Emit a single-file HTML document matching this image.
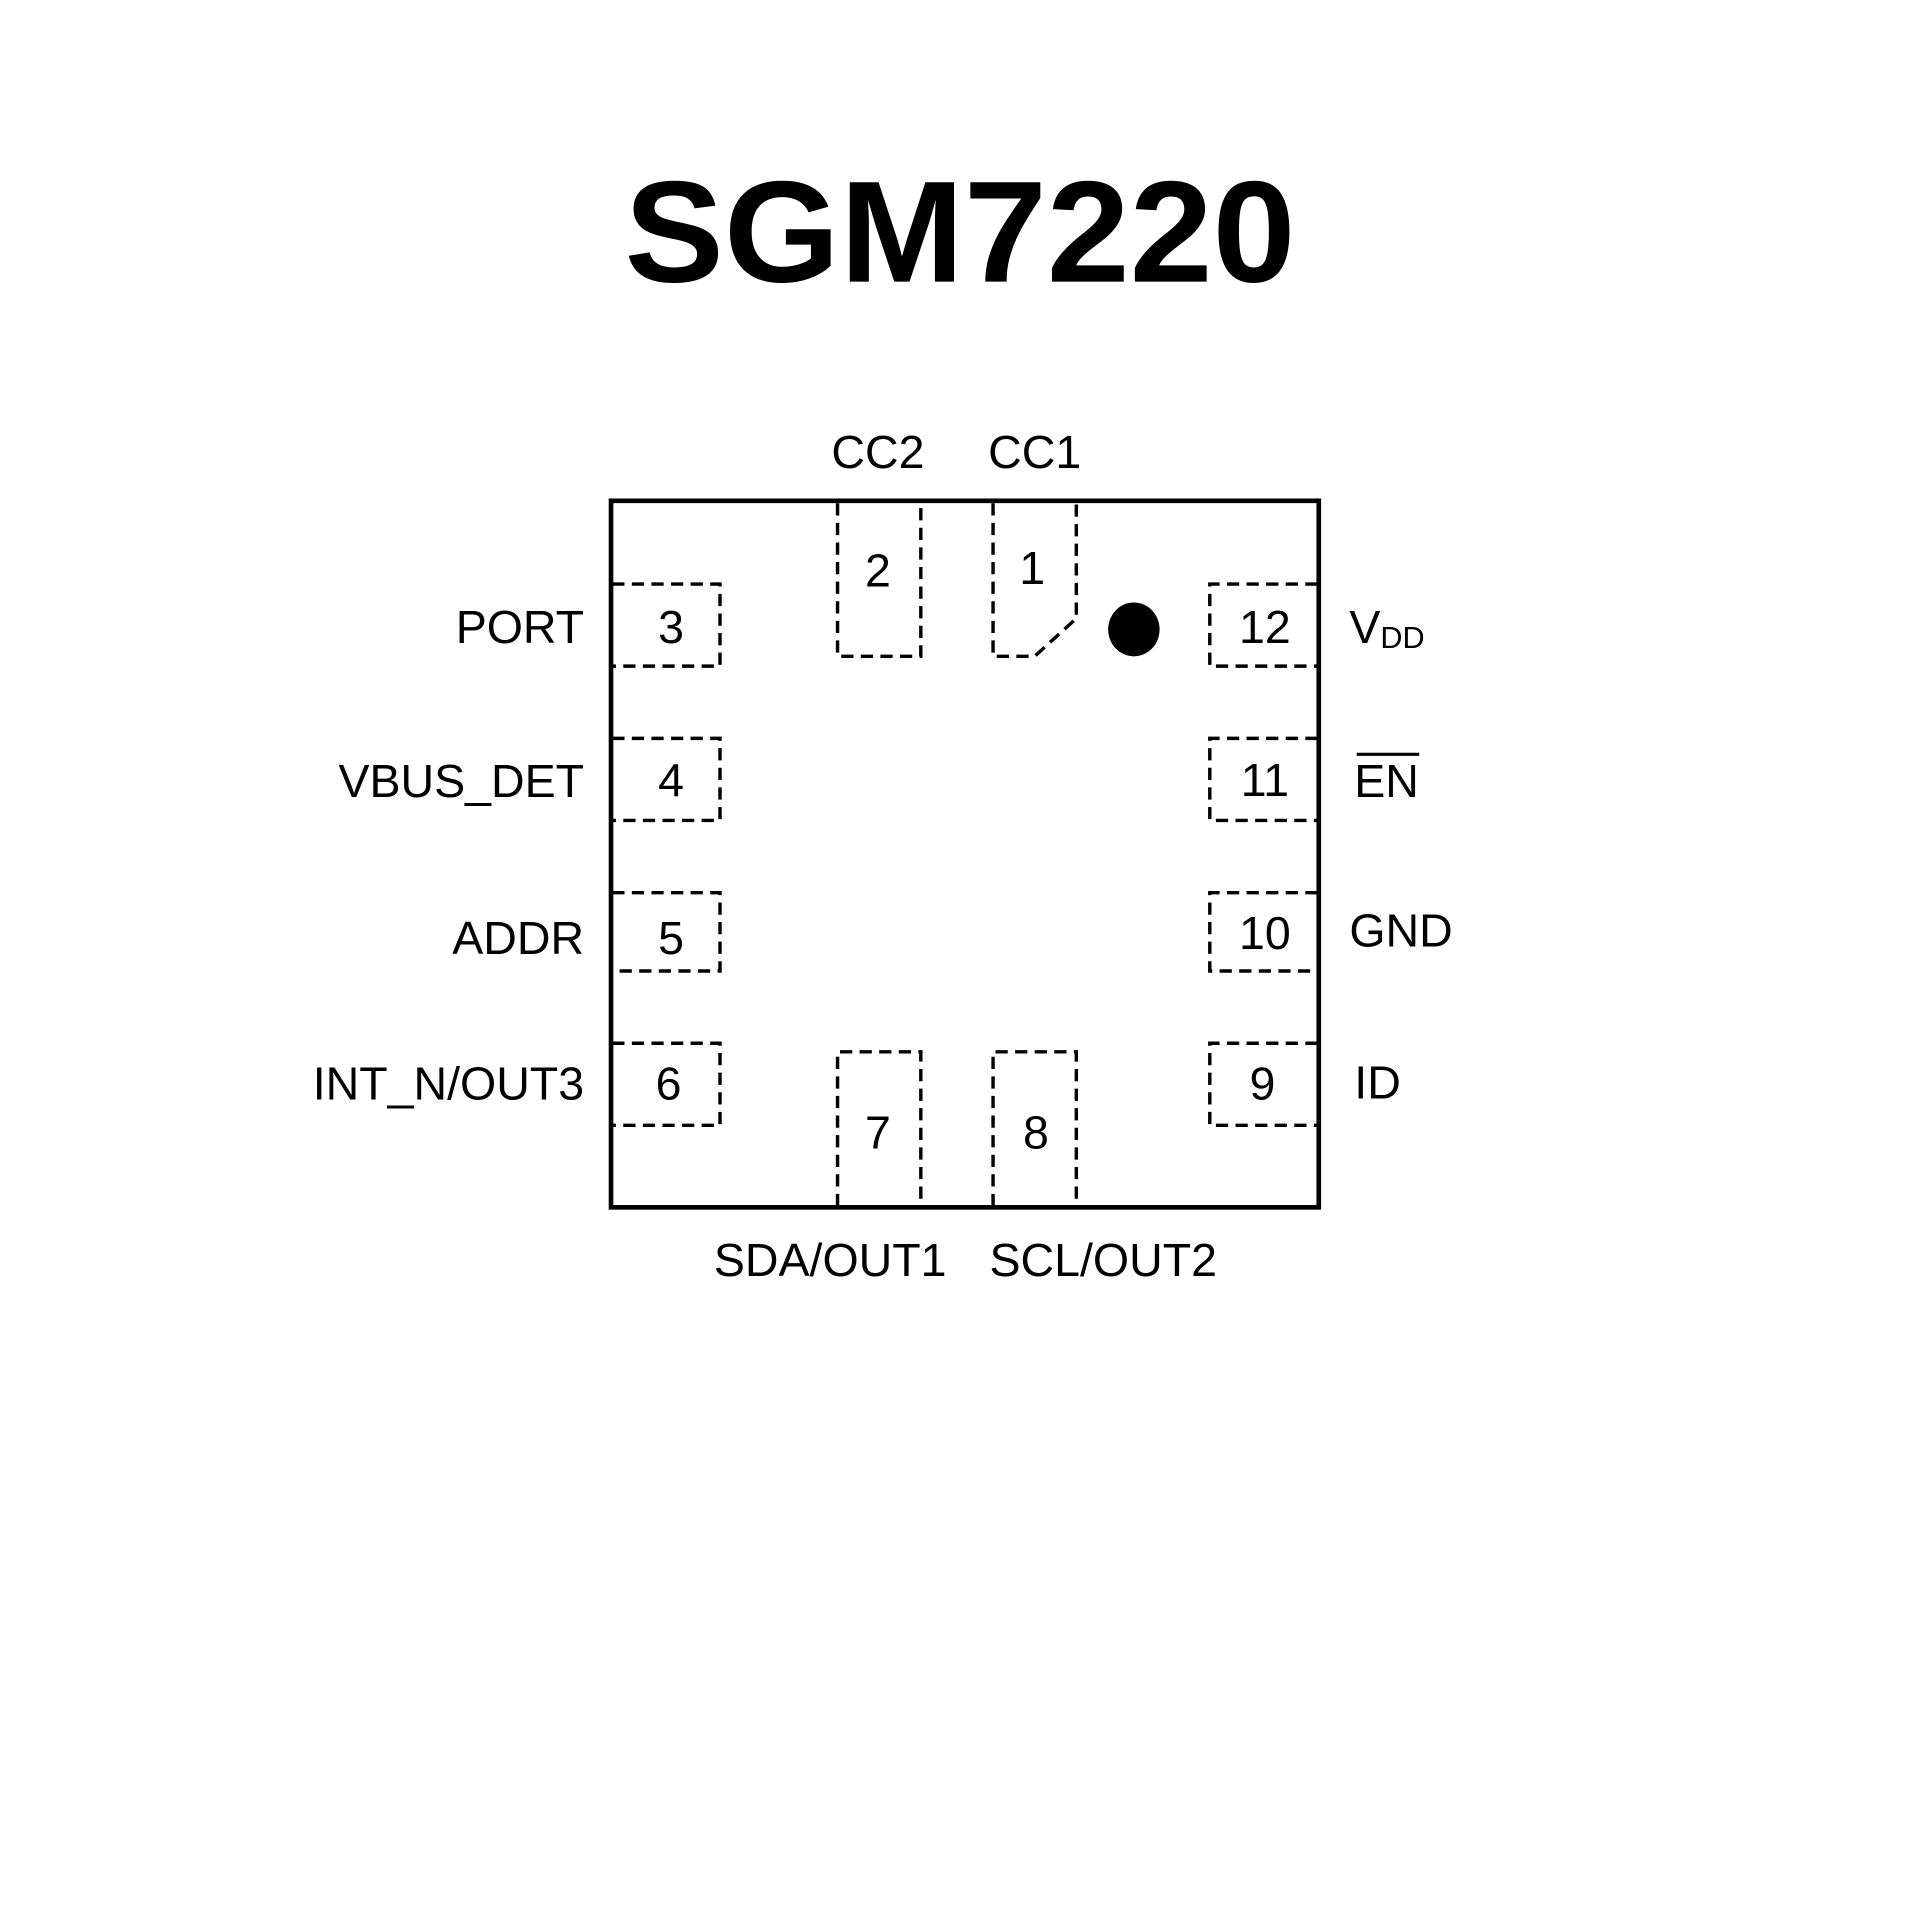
<!DOCTYPE html>
<html><head><meta charset="utf-8"><style>
html,body{margin:0;padding:0;background:#fff;}
svg{display:block;}
text{font-family:"Liberation Sans",Arial,sans-serif;fill:#000;}
</style></head><body>
<svg width="1920" height="1920" viewBox="0 0 1568 1568" xmlns="http://www.w3.org/2000/svg">
<rect width="1568" height="1568" fill="#fff"/>
<text x="784" y="230" text-anchor="middle" font-size="118" font-weight="bold" textLength="548" lengthAdjust="spacingAndGlyphs">SGM7220</text>
<rect x="499" y="409" width="578" height="577" fill="none" stroke="#000" stroke-width="3.8"/>
<g fill="none" stroke="#000" stroke-width="2.8" stroke-dasharray="10,6">
<path d="M500 477 H588 V544 H500"/>
<path d="M500 603 H588 V670 H500"/>
<path d="M500 729 H588 V793 H500"/>
<path d="M500 852 H588 V919 H500"/>
<path d="M1076 477 H988 V544 H1076"/>
<path d="M1076 603 H988 V670 H1076"/>
<path d="M1076 729 H988 V793 H1076"/>
<path d="M1076 852 H988 V919 H1076"/>
<path d="M684 411 V536 H752 V411"/>
<path d="M811 411 V536 H845 L879 505 V411"/>
<path d="M684 985 V859 H752 V985"/>
<path d="M811 985 V859 H879 V985"/>
</g>
<ellipse cx="926" cy="514" rx="21" ry="22" fill="#000"/>
<g font-size="38" text-anchor="middle">
<text x="717" y="382">CC2</text>
<text x="845" y="382">CC1</text>
<text x="678" y="1042">SDA/OUT1</text>
<text x="901" y="1042">SCL/OUT2</text>
<text x="548" y="525">3</text>
<text x="717" y="479">2</text>
<text x="843" y="477">1</text>
<text x="1033" y="525">12</text>
<text x="548" y="650">4</text>
<text x="1033" y="650">11</text>
<text x="548" y="779">5</text>
<text x="1033" y="775">10</text>
<text x="546" y="898">6</text>
<text x="1031" y="898">9</text>
<text x="717" y="938">7</text>
<text x="846" y="938">8</text>
</g>
<g font-size="38" text-anchor="end">
<text x="477" y="525">PORT</text>
<text x="477" y="651">VBUS_DET</text>
<text x="477" y="779">ADDR</text>
<text x="477" y="898">INT_N/OUT3</text>
</g>
<g font-size="38">
<text x="1102" y="525">V<tspan font-size="25" dy="4">DD</tspan></text>
<text x="1106" y="651">EN</text>
<text x="1102" y="773">GND</text>
<text x="1106" y="897">ID</text>
</g>
<line x1="1108" y1="616" x2="1159" y2="616" stroke="#000" stroke-width="2.5"/>
</svg>
</body></html>
